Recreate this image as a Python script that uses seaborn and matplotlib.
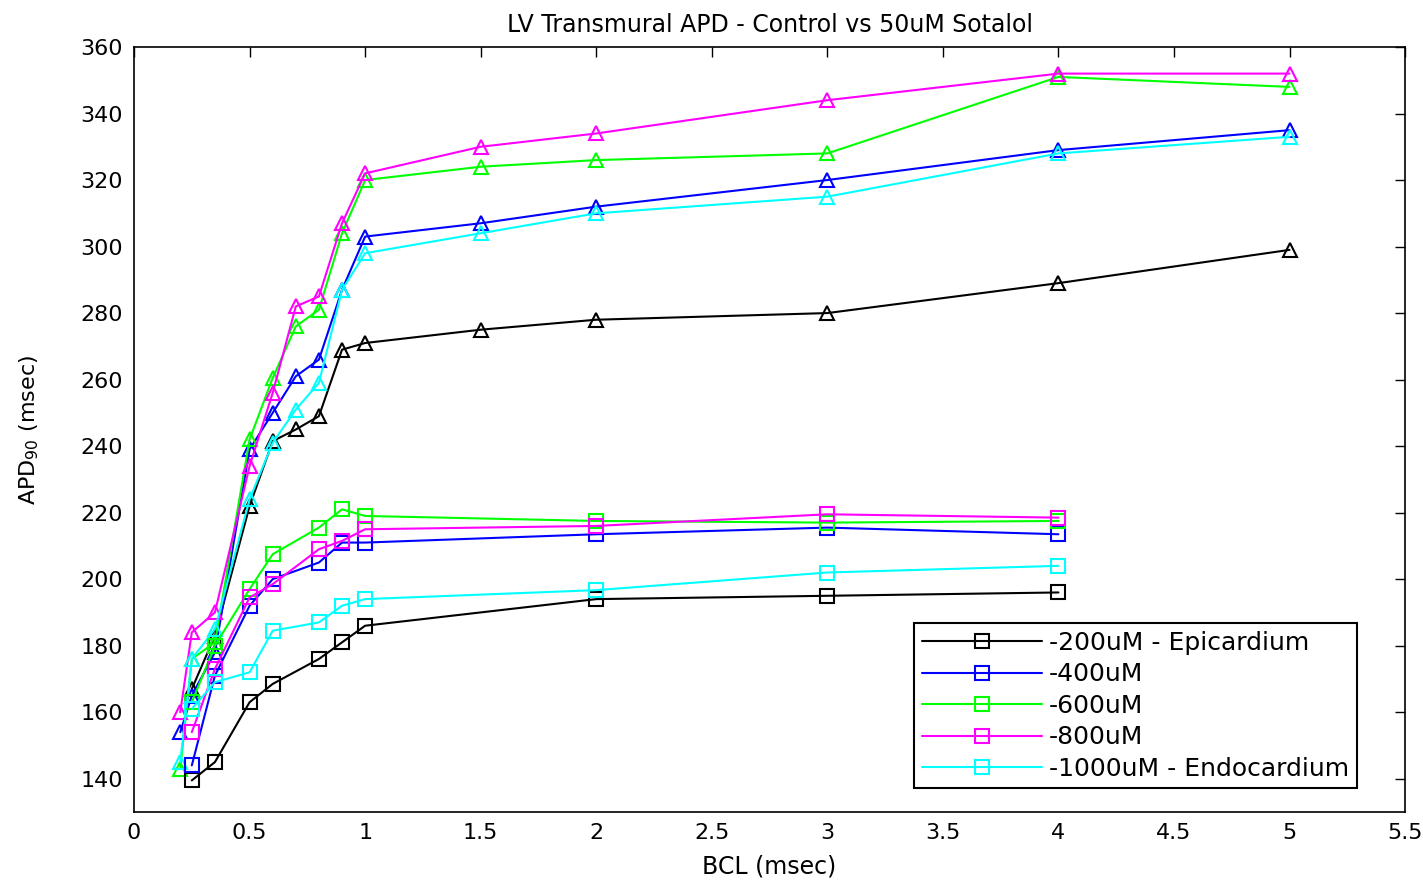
import numpy as np
import pandas as pd
import matplotlib
matplotlib.use("Agg")
import matplotlib.pyplot as plt
import seaborn as sns

# Basic cycle lengths (s) and APD90 (msec) per transmural layer
bcl_sq = [0.25, 0.35, 0.5, 0.6, 0.8, 0.9, 1.0, 2.0, 3.0, 4.0]
sq_200 = [139.5, 145, 163, 168.5, 176, 181, 186, 194, 195, 196]
sq_400 = [144, 171, 192, 200, 205, 211, 211, 213.5, 215.5, 213.5]
sq_600 = [163, 180, 197, 207.5, 215.5, 221, 219, 217.5, 217, 217.5]
sq_800 = [154, 173, 194.5, 198.5, 209, 211.5, 215, 216, 219.5, 218.5]
sq_1000 = [161, 169, 172, 184.5, 187, 192, 194, 196.7, 202, 204]

bcl_tri = [0.2, 0.25, 0.35, 0.5, 0.6, 0.7, 0.8, 0.9, 1.0, 1.5, 2.0, 3.0, 4.0, 5.0]
tri_200 = [None, 167, 183, 222, 241.5, 245, 249, 269, 271, 275, 278, 280, 289, 299]
tri_400 = [154, 165, 178, 239, 250, 261, 266, 287, 303, 307, 312, 320, 329, 335]
tri_600 = [143, 176, 181, 242, 260.5, 276, 281, 304, 320, 324, 326, 328, 351, 348]
tri_800 = [160, 184, 190, 234, 256, 282, 285, 307, 322, 330, 334, 344, 352, 352]
tri_1000 = [145, 176, 185, 224, 241, 251, 259, 287, 298, 304, 310, 315, 328, 333]

labels = ["-200uM - Epicardium", "-400uM", "-600uM", "-800uM", "-1000uM - Endocardium"]
colors = ["#000000", "#0000FF", "#00FF00", "#FF00FF", "#00FFFF"]

sns.set_style("white")
plt.rcParams["font.family"] = ["DejaVu Sans"]
plt.rcParams["text.color"] = "black"
plt.rcParams["axes.labelcolor"] = "black"

fig = plt.figure(figsize=(14.23, 8.8), dpi=100)
ax = fig.add_axes([0.0942, 0.0773, 0.8932, 0.8693])

sq_series = [sq_200, sq_400, sq_600, sq_800, sq_1000]
tri_series = [tri_200, tri_400, tri_600, tri_800, tri_1000]

for ys, c in zip(tri_series, colors):
    df = pd.DataFrame({"bcl": bcl_tri, "apd": ys}).dropna()
    sns.lineplot(data=df, x="bcl", y="apd", ax=ax, color=c, lw=1.5,
                 marker="^", markersize=10, markerfacecolor="none",
                 markeredgecolor=c, markeredgewidth=1.5, legend=False)

for ys, c, lab in zip(sq_series, colors, labels):
    df = pd.DataFrame({"bcl": bcl_sq, "apd": ys})
    sns.lineplot(data=df, x="bcl", y="apd", ax=ax, color=c, lw=1.5,
                 marker="s", markersize=10, markerfacecolor="none",
                 markeredgecolor=c, markeredgewidth=1.5, label=lab)

ax.set_xlim(0, 5.5)
ax.set_ylim(130, 360)
ax.set_xticks(np.arange(0, 5.51, 0.5))
ax.set_xticklabels(["0", "0.5", "1", "1.5", "2", "2.5", "3", "3.5", "4", "4.5", "5", "5.5"])
ax.set_yticks(np.arange(140, 361, 20))

ax.tick_params(axis="both", which="both", direction="in", length=7, width=1,
               top=True, right=True, labelsize=16, colors="black", pad=8)
for sp in ax.spines.values():
    sp.set_visible(True)
    sp.set_color("black")
    sp.set_linewidth(1.2)

ax.set_title("LV Transmural APD - Control vs 50uM Sotalol", fontsize=17, pad=11,
             color="black")
ax.set_xlabel("BCL (msec)", fontsize=17, labelpad=8)
ax.set_ylabel("APD$_{90}$ (msec)", fontsize=16, labelpad=28)

leg = ax.legend(loc="lower right", bbox_to_anchor=(0.962, 0.031), fontsize=18,
                frameon=True, fancybox=False, framealpha=1, edgecolor="black",
                handlelength=4.8, labelspacing=0.3, borderpad=0.3,
                handletextpad=0.3, borderaxespad=0)
leg.get_frame().set_linewidth(1.5)

fig.savefig("out.png", dpi=100, facecolor="white")
